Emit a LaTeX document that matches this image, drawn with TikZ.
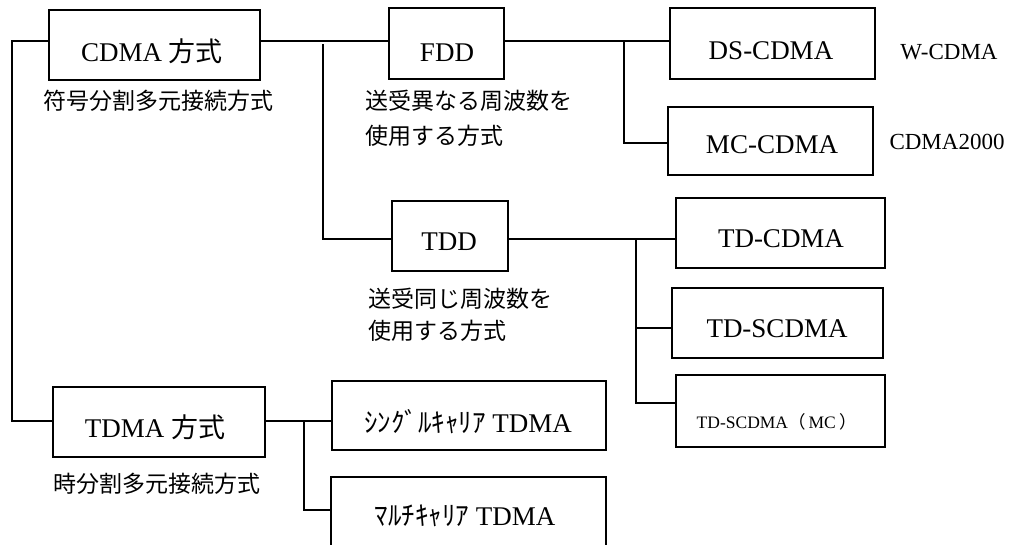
\documentclass[tikz,border=0pt]{standalone}
\usepackage{fontspec}
\setmainfont{Liberation Serif}
\newfontfamily\jp{Noto Sans CJK JP}
\begin{document}
\begin{tikzpicture}[x=1pt,y=-1pt,line width=1.6pt,
  box/.style={draw,rectangle,inner sep=0pt,line width=1.6pt},
  lab/.style={inner sep=0pt,anchor=base,font=\fontsize{27}{32}\selectfont},
  side/.style={inner sep=0pt,anchor=base,font=\fontsize{23}{28}\selectfont},
  small/.style={inner sep=0pt,anchor=base,font=\fontsize{17.5}{21}\selectfont},
  sub/.style={inner sep=0pt,anchor=base west,font=\jp\fontsize{23}{28}\selectfont},
  subc/.style={inner sep=0pt,anchor=base,font=\jp\fontsize{23}{28}\selectfont}]
\useasboundingbox (0,0) rectangle (1036,544);
\fill[white] (0,0) rectangle (1036,544);

% boxes
\node[box,minimum width=211pt,minimum height=70pt] (cdma) at (154.5,45) {};
\node[box,minimum width=115pt,minimum height=71pt] (fdd) at (446.5,43.5) {};
\node[box,minimum width=205pt,minimum height=71pt] (ds) at (772.5,43.5) {};
\node[box,minimum width=205pt,minimum height=68pt] (mc) at (770.5,141) {};
\node[box,minimum width=116pt,minimum height=70pt] (tdd) at (450,236) {};
\node[box,minimum width=209pt,minimum height=70pt] (tdc) at (780.5,233) {};
\node[box,minimum width=211pt,minimum height=70pt] (tds) at (777.5,323) {};
\node[box,minimum width=209pt,minimum height=72pt] (tdm) at (780.5,411) {};
\node[box,minimum width=212pt,minimum height=70pt] (tdma) at (159,422) {};
\node[box,minimum width=274pt,minimum height=69pt] (sc) at (469,415.5) {};
\node[box,minimum width=275pt,minimum height=73pt] (mcar) at (468.5,513.5) {};

% box labels
\node[lab] (cdmat) at (152,61) {CDMA {\jp 方式}};
\node[lab] (fddt) at (447,61) {FDD};
\node[lab] (dst) at (771,59) {DS-CDMA};
\node[lab] (mct) at (772,153) {MC-CDMA};
\node[lab] (tddt) at (449,250) {TDD};
\node[lab] (tdct) at (781,247) {TD-CDMA};
\node[lab] (tdst) at (777,337) {TD-SCDMA};
\node[small] (tdmt) at (777,428) {TD-SCDMA{\jp （}\hspace{3pt}MC\hspace{4pt}{\jp ）}};
\node[lab] (tdmat) at (155,437) {TDMA {\jp 方式}};
\node[lab] (sct) at (468,432) {{\jp ｼﾝｸﾞﾙｷｬﾘｱ} TDMA};
\node[lab] (mcart) at (465,525) {{\jp ﾏﾙﾁｷｬﾘｱ} TDMA};

% side labels
\node[side] (wc) at (949,59) {W-CDMA};
\node[side] (c2k) at (947,149) {CDMA2000};

% subtitles
\node[subc] (cdmas) at (158,109) {符号分割多元接続方式};
\node[sub] (fdds1) at (365,109) {送受異なる周波数を};
\node[sub] (fdds2) at (365,144) {使用する方式};
\node[sub] (tdds1) at (368,307) {送受同じ周波数を};
\node[sub] (tdds2) at (368,339) {使用する方式};
\node[subc] (tdmas) at (157,492) {時分割多元接続方式};

% junctions
\coordinate (a1) at (12,41);
\coordinate (a2) at (12,421);
\coordinate (b1) at (323,44);
\coordinate (b2) at (323,239);
\coordinate (c1) at (624,41);
\coordinate (c2) at (624,143);
\coordinate (d1) at (636,239);
\coordinate (d2) at (636,328);
\coordinate (d3) at (636,403);
\coordinate (e1) at (304,421);
\coordinate (e2) at (304,510);

% connectors
\draw (cdma.west |- a1) -- (a1) -- (a2) -- (tdma.west |- a2);
\draw (cdma.east |- a1) -- (fdd.west |- a1);
\draw (b1) -- (b2) -- (tdd.west |- b2);
\draw (fdd.east |- c1) -- (ds.west |- c1);
\draw (c1) -- (c2) -- (mc.west |- c2);
\draw (tdd.east |- d1) -- (tdc.west |- d1);
\draw (d1) -- (d3) -- (tdm.west |- d3);
\draw (d2) -- (tds.west |- d2);
\draw (tdma.east |- a2) -- (sc.west |- a2);
\draw (e1) -- (e2) -- (mcar.west |- e2);
\end{tikzpicture}
\end{document}
